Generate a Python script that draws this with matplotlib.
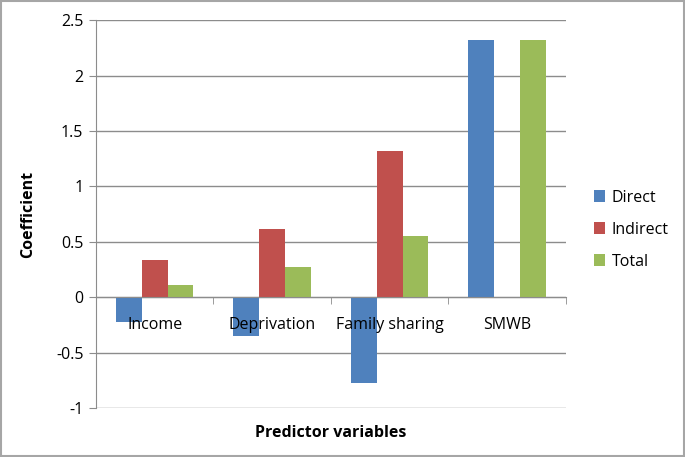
import matplotlib.pyplot as plt
import numpy as np

categories = ["Income", "Deprivation", "Family sharing", "SMWB"]
direct = [-0.22, -0.35, -0.77, 2.32]
indirect = [0.34, 0.62, 1.32, 0]
total = [0.11, 0.27, 0.55, 2.32]
yticks = [-1, -0.5, 0, 0.5, 1, 1.5, 2, 2.5]
ytick_labels = ["-1", "-0.5", "0", "0.5", "1", "1.5", "2", "2.5"]

plt.rcParams['font.family'] = ['Open Sans', 'DejaVu Sans']

fig = plt.figure(figsize=(6.85, 4.57), dpi=100)
fig.patches.append(plt.Rectangle((0.002, 0.002), 0.996, 0.995, transform=fig.transFigure,
                                 fill=False, edgecolor='#a6a6a6', linewidth=1.5))
ax = fig.add_axes([0.140, 0.107, 0.686, 0.849])

x = np.arange(len(categories))
w = 0.22
ax.bar(x - w, direct, w, color='#4F81BD', label='Direct', zorder=3)
ax.bar(x, indirect, w, color='#C0504D', label='Indirect', zorder=3)
ax.bar(x + w, total, w, color='#9BBB59', label='Total', zorder=3)

ax.set_xlim(-0.5, len(categories) - 0.5)
ax.set_ylim(-1, 2.5)
ax.set_yticks(yticks)
ax.set_yticklabels(ytick_labels, fontsize=11.5)
ax.yaxis.grid(True, color='#8c8c8c', linewidth=1)
ax.tick_params(axis='y', length=5, color='#8c8c8c', pad=4)
ax.yaxis.set_zorder(1)

for s in ['top', 'right']:
    ax.spines[s].set_visible(False)
ax.spines['left'].set_color('#8c8c8c')
ax.spines['bottom'].set_position(('data', 0))
ax.spines['bottom'].set_color('#8c8c8c')
ax.spines['bottom'].set_zorder(4)

# category labels sit on the zero line, drawn over the bars
ax.set_xticks(x)
ax.set_xticklabels(categories, fontsize=11.5)
ax.tick_params(axis='x', length=0, pad=14)
ax.set_xticks(np.arange(len(categories) + 1) - 0.5, minor=True)
ax.tick_params(axis='x', which='minor', length=5, color='#8c8c8c')
ax.xaxis.set_zorder(5)

ax.set_ylabel("Coefficient", fontsize=11.5, fontweight='bold', labelpad=14)
ax.text(0.5, -0.065, "Predictor variables", transform=ax.transAxes, ha='center',
        va='center', fontsize=11.5, fontweight='bold')

ax.legend(loc='center left', bbox_to_anchor=(1.03, 0.46), frameon=False, fontsize=11.5,
          handlelength=0.7, handleheight=0.7, labelspacing=1.0, handletextpad=0.4)

fig.savefig("out.png", dpi=100)
